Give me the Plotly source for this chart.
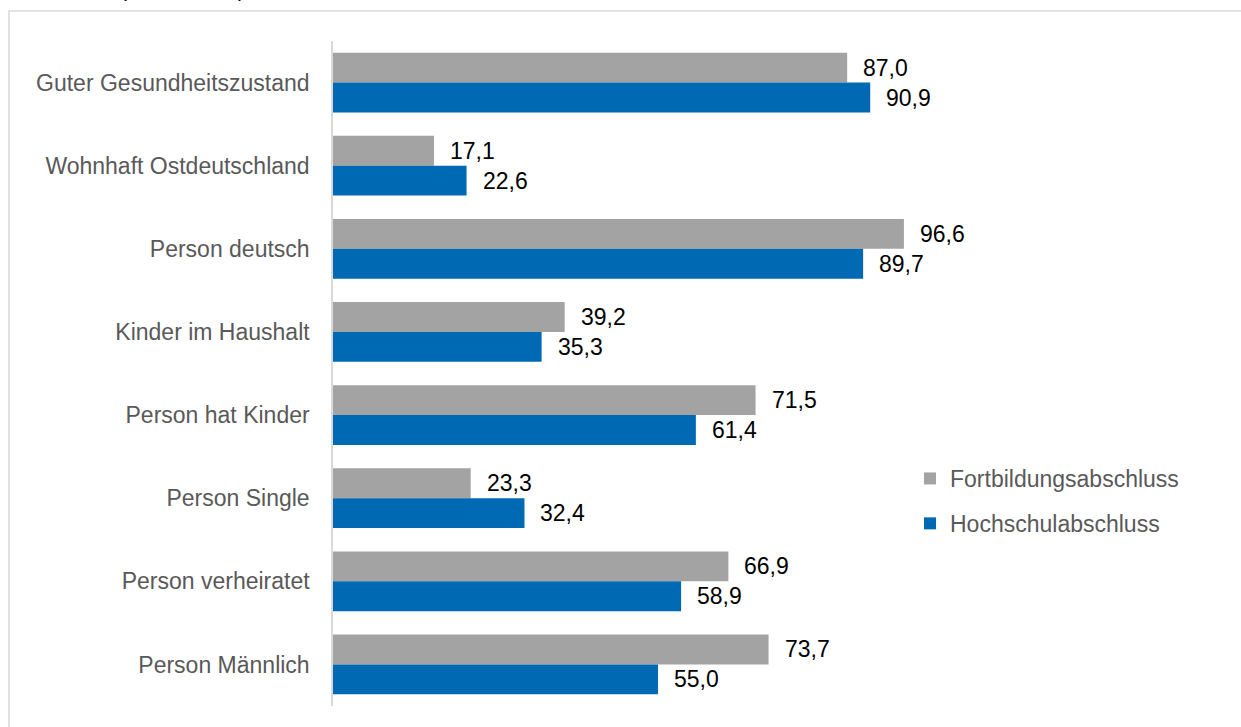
import plotly.graph_objects as go

# Merkmale (von oben nach unten) und Anteile in Prozent
categories = [
    "Guter Gesundheitszustand",
    "Wohnhaft Ostdeutschland",
    "Person deutsch",
    "Kinder im Haushalt",
    "Person hat Kinder",
    "Person Single",
    "Person verheiratet",
    "Person Männlich",
]
fortbildung = [87.0, 17.1, 96.6, 39.2, 71.5, 23.3, 66.9, 73.7]
hochschule = [90.9, 22.6, 89.7, 35.3, 61.4, 32.4, 58.9, 55.0]

series_names = ["Fortbildungsabschluss", "Hochschulabschluss"]
series_colors = ["#A3A3A3", "#0069B3"]

FONT = "Liberation Sans, Arial, sans-serif"

fig = go.Figure()
for name, values, color in zip(series_names, [fortbildung, hochschule], series_colors):
    fig.add_trace(go.Bar(
        name=name,
        legendgroup=name,
        y=categories,
        x=values,
        orientation="h",
        marker=dict(color=color, line=dict(width=0)),
        hoverinfo="skip",
    ))

# Wertbeschriftungen rechts neben den Balken
annotations = []
for values, shift in [(fortbildung, 15), (hochschule, -15)]:
    for cat, v in zip(categories, values):
        annotations.append(dict(
            x=v, y=cat, xref="x", yref="y",
            text=f"{v:.1f}".replace(".", ","),
            showarrow=False, xanchor="left", yanchor="middle",
            xshift=14, yshift=shift,
            font=dict(family=FONT, size=23, color="#000000"),
        ))

# Untertitel am oberen Rand (größtenteils außerhalb des Bildes)
annotations.append(dict(
    x=(182 - 333) / 591, y=1.057, xref="paper", yref="paper",
    text="(Anteile in %)", showarrow=False,
    xanchor="center", yanchor="bottom",
    font=dict(family=FONT, size=21, color="#000000"),
))

fig.update_layout(
    width=1241, height=727,
    margin=dict(l=333, r=317, t=41, b=21),
    paper_bgcolor="white", plot_bgcolor="white",
    barmode="group", bargap=0.28, bargroupgap=0,
    showlegend=True,
    legend=dict(
        x=(910 - 333) / 591, y=1 - (457 - 41) / 665,
        xanchor="left", yanchor="top",
        traceorder="grouped", tracegroupgap=12,
        font=dict(family=FONT, size=23, color="#595959"),
        bgcolor="rgba(0,0,0,0)",
    ),
    xaxis=dict(range=[0, 100], visible=False, fixedrange=True),
    yaxis=dict(
        autorange="reversed",
        showline=True, linecolor="#D9D9D9", linewidth=1.5,
        showgrid=False, zeroline=False, ticks="",
        ticklabelstandoff=17,
        tickfont=dict(family=FONT, size=23, color="#595959"),
    ),
    annotations=annotations,
    shapes=[dict(
        type="rect", xref="paper", yref="paper",
        x0=(9 - 333) / 591, x1=1.7,
        y0=-0.1, y1=1 + (41 - 11) / 665,
        line=dict(color="#D9D9D9", width=1.5),
        fillcolor="rgba(0,0,0,0)", layer="below",
    )],
)

fig.write_html("out.html")
